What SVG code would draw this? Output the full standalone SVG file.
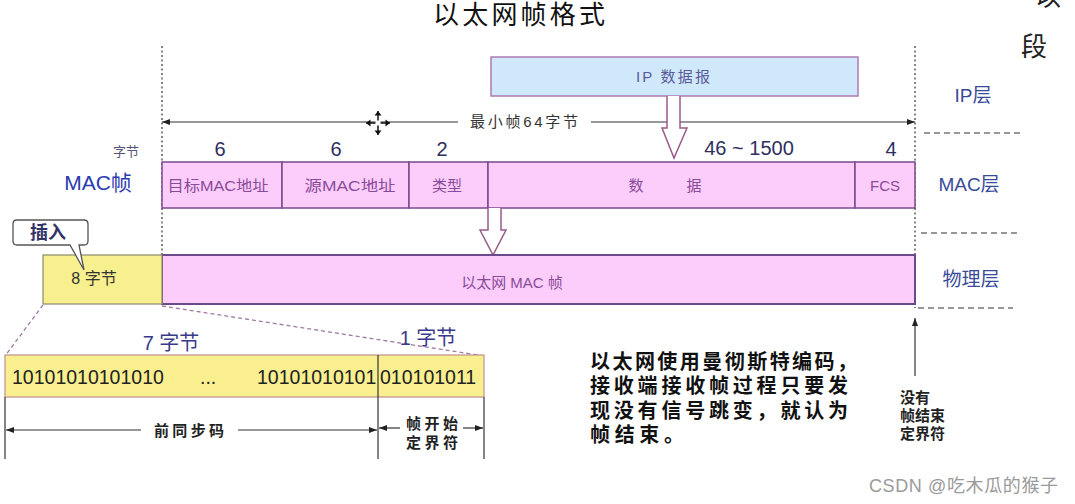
<svg xmlns="http://www.w3.org/2000/svg" width="1075" height="504" viewBox="0 0 1075 504">
<defs>
<style>
text{font-family:"Liberation Sans","Noto Sans CJK SC",sans-serif;}
.cell{fill:#fccdfb;stroke:#7a4a8a;stroke-width:1.5;}
.ctext{fill:#8a4a9a;font-size:15px;text-anchor:middle;}
.num{fill:#2e2e60;font-size:20px;text-anchor:middle;}
.layer{fill:#3a4a9a;font-size:19px;text-anchor:middle;}
.dot{stroke:#444;stroke-width:1.3;stroke-dasharray:2 2.5;fill:none;}
.dash{stroke:#777;stroke-width:1.5;stroke-dasharray:6 4;fill:none;}
.pdash{stroke:#a07aa0;stroke-width:1.3;stroke-dasharray:4 3;fill:none;}
.line{stroke:#333;stroke-width:1.2;fill:none;}
.hollow{fill:#fff;stroke:#9a5a8a;stroke-width:1.5;}
.bits{fill:#222;font-size:19.5px;}
.lbl{fill:#222;font-size:15px;font-weight:bold;}
.para{fill:#111;font-size:20px;font-weight:bold;}
</style>
<marker id="ah" viewBox="0 0 8 6" refX="8" refY="3" markerWidth="8" markerHeight="6" markerUnits="userSpaceOnUse" orient="auto-start-reverse">
<path d="M0,0 L8,3 L0,6 z" fill="#222"/>
</marker>
</defs>
<rect width="1075" height="504" fill="#fff"/>

<g id="title">
<text x="519" y="24" font-size="26" fill="#111" text-anchor="middle" textLength="172" lengthAdjust="spacing">以太网帧格式</text>
<text x="1048" y="6" font-size="26" fill="#222" text-anchor="middle">以</text>
<text x="1034" y="56" font-size="26" fill="#222" text-anchor="middle">段</text>
</g>

<g id="guides">
<line class="dot" x1="162" y1="46" x2="162" y2="255"/>
<line class="dot" x1="915" y1="46" x2="915" y2="308"/>
<line class="dash" x1="924" y1="133" x2="1020" y2="133"/>
<line class="dash" x1="921" y1="233" x2="1017" y2="233"/>
<line class="dash" x1="918" y1="308" x2="1013" y2="308"/>
</g>

<g id="layers">
<text class="layer" x="973" y="102">IP层</text>
<text class="layer" x="969" y="191">MAC层</text>
<text class="layer" x="971" y="286">物理层</text>
</g>

<g id="ip-datagram">
<rect x="491" y="57" width="367" height="39" fill="#cfe8fa" stroke="#b07ab0" stroke-width="1.5"/>
<text x="673" y="82" font-size="15" fill="#5a5a9a" text-anchor="middle" textLength="74" lengthAdjust="spacing">IP 数据报</text>
</g>

<g id="min-frame">
<line class="line" x1="162" y1="122" x2="458" y2="122" marker-start="url(#ah)"/>
<line class="line" x1="591" y1="122" x2="915" y2="122" marker-end="url(#ah)"/>
<text x="524" y="127" font-size="15" fill="#333" text-anchor="middle" textLength="108" lengthAdjust="spacing">最小帧64字节</text>
</g>

<g id="cursor" fill="#111" stroke="#111">
<line x1="366" y1="123" x2="390" y2="123" stroke-width="1.5"/>
<line x1="378" y1="111" x2="378" y2="135" stroke-width="1.5"/>
<path d="M378,111 l-3.5,4.5 h7 z M378,135 l-3.5,-4.5 h7 z M366,123 l4.5,-3.5 v7 z M390,123 l-4.5,-3.5 v7 z" stroke="none"/>
<rect x="375.5" y="120.5" width="5" height="5" fill="#fff" stroke="none"/>
</g>

<g id="mac-frame">
<text x="98" y="190" font-size="21" fill="#2a3ab0" text-anchor="middle">MAC帧</text>
<text x="126" y="156" font-size="13" fill="#555577" text-anchor="middle">字节</text>
<text class="num" x="220" y="156">6</text>
<text class="num" x="336" y="156">6</text>
<text class="num" x="442" y="156">2</text>
<text class="num" x="749" y="155">46 ~ 1500</text>
<text class="num" x="891" y="156">4</text>
<rect class="cell" x="162" y="162" width="120" height="46"/>
<rect class="cell" x="282" y="162" width="127" height="46"/>
<rect class="cell" x="409" y="162" width="79" height="46"/>
<rect class="cell" x="488" y="162" width="367" height="46"/>
<rect class="cell" x="855" y="162" width="60" height="46"/>
<text class="ctext" x="218" y="191" textLength="101" lengthAdjust="spacingAndGlyphs">目标MAC地址</text>
<text class="ctext" x="350" y="191" textLength="91" lengthAdjust="spacingAndGlyphs">源MAC地址</text>
<text class="ctext" x="447" y="191">类型</text>
<text class="ctext" x="636" y="191">数</text>
<text class="ctext" x="694" y="191">据</text>
<text class="ctext" x="885" y="191">FCS</text>
</g>

<g id="connectors">
<path class="hollow" d="M667,96 V128 H662 L674,158 L687,128 H680 V96"/>
<path class="hollow" d="M488,208 V230 H480 L493,255 L506,230 H501 V208"/>
<line class="pdash" x1="43" y1="305" x2="5" y2="356"/>
<line class="pdash" x1="162" y1="306" x2="484" y2="356"/>
<line class="line" x1="915" y1="376" x2="915" y2="318" marker-end="url(#ah)"/>
</g>

<g id="ethernet-frame">
<rect x="162" y="255" width="753" height="49" fill="#fccdfb" stroke="#6a4a8a" stroke-width="2"/>
<text x="512" y="288" font-size="15" fill="#8a4a9a" text-anchor="middle">以太网 MAC 帧</text>
</g>

<g id="preamble-box">
<rect x="43" y="255" width="119" height="49" fill="#f8f08e" stroke="#8a8a6a" stroke-width="1.2"/>
<text x="94" y="284" font-size="16" fill="#333" text-anchor="middle">8 字节</text>
</g>

<g id="insert-callout">
<path d="M17,220 H84 Q88,220 88,224 V241 Q88,245 84,245 H79 L84,270 L70,245 H17 Q13,245 13,241 V224 Q13,220 17,220 Z" fill="#fff" stroke="#555" stroke-width="1.3"/>
<text x="48" y="239" font-size="18" fill="#333366" text-anchor="middle" font-weight="bold">插入</text>
</g>

<g id="preamble-detail">
<text x="171" y="350" font-size="20" fill="#3a3a8a" text-anchor="middle">7 字节</text>
<text x="428" y="345" font-size="20" fill="#3a3a8a" text-anchor="middle">1 字节</text>
<rect x="5" y="355" width="479" height="42" fill="#f9ef8e" stroke="#c09090" stroke-width="1.2"/>
<line class="line" x1="378" y1="355" x2="378" y2="397"/>
<text class="bits" x="12" y="384">10101010101010</text>
<text class="bits" x="200" y="384">...</text>
<text class="bits" x="257" y="384">10101010101</text>
<text class="bits" x="380" y="384">010101011</text>
<line class="line" x1="5" y1="397" x2="5" y2="459"/>
<line class="line" x1="378" y1="397" x2="378" y2="459"/>
<line class="line" x1="484" y1="397" x2="484" y2="459"/>
<line class="line" x1="6" y1="430" x2="141" y2="430" marker-start="url(#ah)"/>
<line class="line" x1="238" y1="430" x2="377" y2="430" marker-end="url(#ah)"/>
<text class="lbl" x="189" y="436" font-size="16" text-anchor="middle" textLength="70" lengthAdjust="spacing">前同步码</text>
<line class="line" x1="379" y1="428" x2="400" y2="428" marker-start="url(#ah)"/>
<line class="line" x1="463" y1="428" x2="483" y2="428" marker-end="url(#ah)"/>
<text class="lbl" x="432" y="429" text-anchor="middle" textLength="52" lengthAdjust="spacing">帧开始</text>
<text class="lbl" x="432" y="448" text-anchor="middle" textLength="52" lengthAdjust="spacing">定界符</text>
</g>

<g id="no-end-delimiter">
<text class="lbl" x="900" y="403">没有</text>
<text class="lbl" x="900" y="421">帧结束</text>
<text class="lbl" x="900" y="439">定界符</text>
</g>

<g id="manchester-note">
<text class="para" x="590" y="369" textLength="267" lengthAdjust="spacing">以太网使用曼彻斯特编码，</text>
<text class="para" x="590" y="393" textLength="258" lengthAdjust="spacing">接收端接收帧过程只要发</text>
<text class="para" x="590" y="418" textLength="258" lengthAdjust="spacing">现没有信号跳变，就认为</text>
<text class="para" x="590" y="442" textLength="94" lengthAdjust="spacing">帧结束。</text>
</g>

<text x="869" y="492" font-size="18" fill="#9a9a9a" textLength="189" lengthAdjust="spacing">CSDN @吃木瓜的猴子</text>
</svg>
